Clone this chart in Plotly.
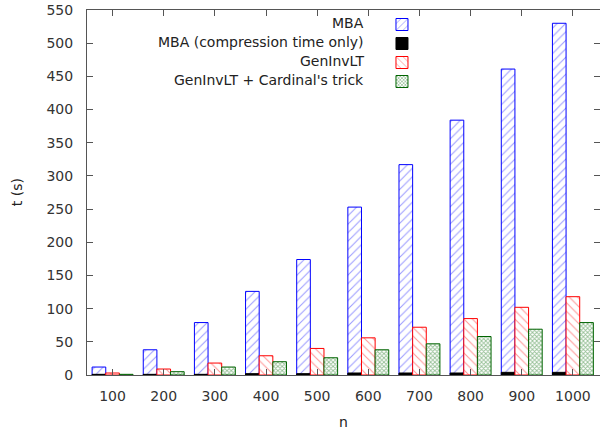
import plotly.graph_objects as go

categories = ["100", "200", "300", "400", "500", "600", "700", "800", "900", "1000"]
mba = [12, 38, 79, 126, 174, 253, 317, 384, 461, 530]
mba_compression = [1, 1, 1, 2, 2, 3, 3, 3, 4, 4]
geninvlt = [3, 9, 18, 29, 40, 56, 72, 85, 102, 118]
geninvlt_cardinal = [1, 5, 12, 20, 26, 38, 47, 58, 69, 79]
series_names = ["MBA", "MBA (compression time only)", "GenInvLT", "GenInvLT + Cardinal's trick"]

FONT = "DejaVu Sans"
fig = go.Figure()

fig.add_trace(go.Bar(
    x=categories, y=mba, name="", offsetgroup="a",
    marker=dict(color="white", line=dict(color="#0000ff", width=1),
                pattern=dict(shape="/", fgcolor="#3a3aff", bgcolor="white", size=6, solidity=0.18)),
))
fig.add_trace(go.Bar(
    x=categories, y=mba_compression, name="", offsetgroup="a",
    marker=dict(color="black", line=dict(color="black", width=1)),
))
fig.add_trace(go.Bar(
    x=categories, y=geninvlt, name="", offsetgroup="b",
    marker=dict(color="white", line=dict(color="#ff0000", width=1),
                pattern=dict(shape="\\", fgcolor="#ff3030", bgcolor="white", size=6, solidity=0.18)),
))
fig.add_trace(go.Bar(
    x=categories, y=geninvlt_cardinal, name="", offsetgroup="c",
    marker=dict(color="white", line=dict(color="#006400", width=1),
                pattern=dict(shape="x", fgcolor="#2a7f2a", bgcolor="white", size=3, solidity=0.5)),
))

annotations = []
legend_rows_y = [0.964, 0.912, 0.860, 0.808]
for name, yy in zip(series_names, legend_rows_y):
    annotations.append(dict(text=name, xref="paper", yref="paper", x=0.544, y=yy,
                            xanchor="right", yanchor="middle", showarrow=False,
                            font=dict(family=FONT, size=14, color="#222")))
annotations.append(dict(text="t (s)", xref="paper", yref="paper", x=-0.137, y=0.5,
                        textangle=-90, showarrow=False, xanchor="center", yanchor="middle",
                        font=dict(family=FONT, size=14, color="#222")))
annotations.append(dict(text="n", xref="paper", yref="paper", x=0.5, y=-0.13,
                        showarrow=False, xanchor="center", yanchor="middle",
                        font=dict(family=FONT, size=14, color="#222")))

fig.update_layout(
    width=600, height=436,
    margin=dict(l=87, r=0, t=10, b=61),
    paper_bgcolor="white", plot_bgcolor="white",
    barmode="group", bargap=0.2, bargroupgap=0,
    font=dict(family=FONT, size=14, color="#333"),
    showlegend=True,
    legend=dict(x=0.575, y=1.0, xanchor="left", yanchor="top",
                bgcolor="rgba(0,0,0,0)", font=dict(size=11), tracegroupgap=0),
    annotations=annotations,
    xaxis=dict(type="category", range=[-0.5, 9.53], showgrid=False,
               showline=True, linecolor="#555", linewidth=1, mirror="ticks",
               ticks="inside", ticklen=6, tickcolor="#555", ticklabelstandoff=8),
    yaxis=dict(range=[0, 550], dtick=50, showgrid=False, zeroline=False,
               showline=True, linecolor="#555", linewidth=1, mirror="ticks",
               ticks="inside", ticklen=6, tickcolor="#555", ticklabelstandoff=10),
)

fig.write_html("out.html", config={"displayModeBar": False},
               post_script="document.body.style.margin='0';document.body.style.overflow='hidden';")
